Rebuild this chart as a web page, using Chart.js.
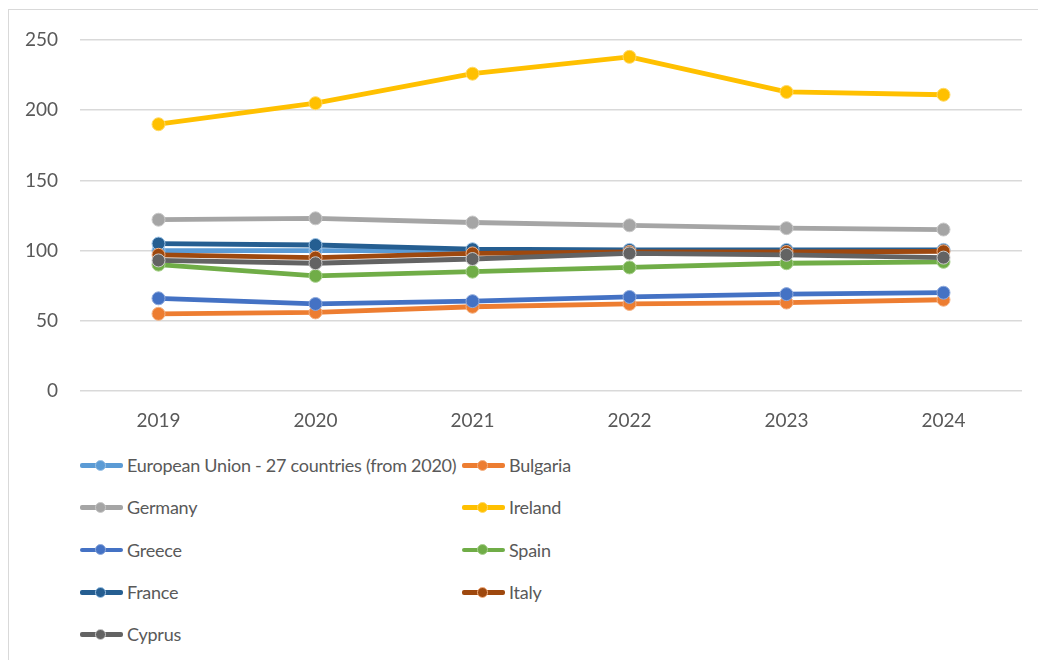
<!DOCTYPE html>
<html lang="en">
<head>
    <meta charset="UTF-8">
    <title>Index by country, 2019-2024</title>
    <script src="https://cdn.jsdelivr.net/npm/chart.js"></script>
    <style>
        body {
            margin: 0;
            background: #fff;
            font-family: Lato, "Open Sans", sans-serif;
        }
        #wrap {
            position: relative;
            width: 1038px;
            height: 660px;
            overflow: hidden;
        }
        #frame {
            position: absolute;
            left: 8px;
            top: 9px;
            width: 1100px;
            height: 700px;
            border-left: 1.5px solid #d9d9d9;
            border-top: 1.5px solid #d9d9d9;
        }
        #chart-box {
            position: absolute;
            left: 0;
            top: 0;
            width: 1038px;
            height: 440px;
        }
        #legend {
            position: absolute;
            left: 80px;
            top: 444px;
            display: grid;
            grid-template-columns: 382px auto;
            grid-auto-rows: 42.3px;
            color: #595959;
            font-size: 18px;
            letter-spacing: -0.25px;
            white-space: nowrap;
        }
        .item {
            display: flex;
            align-items: center;
        }
        .marker {
            position: relative;
            flex: none;
            width: 43px;
            height: 13px;
            margin-right: 4px;
        }
        .marker .ln {
            position: absolute;
            left: 0;
            right: 0;
            top: 4.5px;
            height: 4.5px;
            border-radius: 2px;
        }
        .marker .dot {
            position: absolute;
            left: 15px;
            top: 1px;
            width: 11px;
            height: 11px;
            border-radius: 50%;
            box-sizing: border-box;
            border: 1px solid;
        }
    </style>
</head>
<body>
<div id="wrap">
    <div id="frame"></div>
    <div id="chart-box"><canvas id="chart"></canvas></div>
    <div id="legend"></div>
</div>
<script>
    const years = ['2019', '2020', '2021', '2022', '2023', '2024'];
    const yTicks = [0, 50, 100, 150, 200, 250];

    const seriesNames = [
        'European Union - 27 countries (from 2020)', 'Bulgaria', 'Germany', 'Ireland',
        'Greece', 'Spain', 'France', 'Italy', 'Cyprus'
    ];
    const eu       = [100, 100, 100, 100, 100, 100];
    const bulgaria = [55, 56, 60, 62, 63, 65];
    const germany  = [122, 123, 120, 118, 116, 115];
    const ireland  = [190, 205, 226, 238, 213, 211];
    const greece   = [66, 62, 64, 67, 69, 70];
    const spain    = [90, 82, 85, 88, 91, 92];
    const france   = [105, 104, 101, 100.5, 100.5, 100.5];
    const italy    = [97, 95, 98, 99, 99, 99.5];
    const cyprus   = [93, 91, 94, 98, 97, 95];

    const seriesValues = [eu, bulgaria, germany, ireland, greece, spain, france, italy, cyprus];
    const lineColors = ['#5B9BD5', '#ED7D31', '#A5A5A5', '#FFC000', '#4472C4', '#70AD47', '#255E91', '#9E480E', '#636363'];
    const ringColors = ['#9DC3E6', '#F4B183', '#C9C9C9', '#FFD966', '#8FAADC', '#A9D18E', '#9DC3E6', '#F4B183', '#C9C9C9'];

    const datasets = seriesNames.map((name, i) => ({
        label: name,
        data: seriesValues[i],
        borderColor: lineColors[i],
        backgroundColor: lineColors[i],
        pointBackgroundColor: lineColors[i],
        pointBorderColor: ringColors[i],
        pointBorderWidth: 1,
        pointRadius: 6.5,
        borderWidth: 4.8,
        borderCapStyle: 'round',
        borderJoinStyle: 'round',
        tension: 0,
        // later series sit on top
        order: seriesNames.length - i
    }));

    const tickFont = { family: 'Lato, "Open Sans", sans-serif', size: 19 };

    new Chart(document.getElementById('chart'), {
        type: 'line',
        data: { labels: years, datasets: datasets },
        options: {
            responsive: true,
            maintainAspectRatio: false,
            animation: false,
            devicePixelRatio: 1,
            layout: { padding: { left: 0, right: 16, top: 40, bottom: 0 } },
            plugins: {
                legend: { display: false },
                tooltip: { enabled: false }
            },
            scales: {
                x: {
                    offset: true,
                    grid: { display: false },
                    border: { display: false },
                    ticks: { color: '#595959', font: tickFont, padding: 10, maxRotation: 0 },
                    afterFit: (s) => { s.height = 49; }
                },
                y: {
                    min: 0,
                    max: 250,
                    afterBuildTicks: (s) => { s.ticks = yTicks.map(v => ({ value: v })); },
                    grid: { color: '#d9d9d9', lineWidth: 1.5, drawTicks: false },
                    border: { display: false },
                    ticks: { color: '#595959', font: tickFont, padding: 22 },
                    afterFit: (s) => { s.width = 80; }
                }
            }
        }
    });

    // legend: two columns, row by row, same order as the series
    const legend = document.getElementById('legend');
    seriesNames.forEach((name, i) => {
        const item = document.createElement('div');
        item.className = 'item';
        item.innerHTML =
            '<span class="marker"><span class="ln" style="background:' + lineColors[i] + '"></span>' +
            '<span class="dot" style="background:' + lineColors[i] + ';border-color:' + ringColors[i] + '"></span></span>' +
            '<span>' + name + '</span>';
        legend.appendChild(item);
    });
</script>
</body>
</html>
